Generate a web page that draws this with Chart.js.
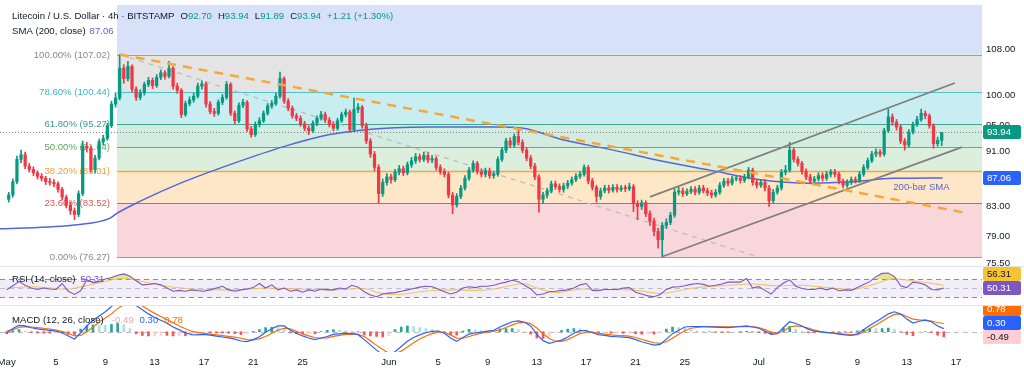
<!DOCTYPE html>
<html>
<head>
<meta charset="utf-8">
<script src="https://cdn.jsdelivr.net/npm/chart.js@4.4.1/dist/chart.umd.min.js"></script>
<style>
  html, body { margin: 0; padding: 0; background: #fff; }
  #wrap { position: relative; width: 1024px; height: 376px; overflow: hidden; }
  canvas { position: absolute; left: 0; }
  .sep { position: absolute; left: 0; width: 1024px; height: 1px; background: #e0e3eb; }
</style>
</head>
<body>
<div id="wrap">
  <canvas id="price" width="1024" height="270" style="top:0"></canvas>
  <canvas id="rsi" width="1024" height="39" style="top:266px"></canvas>
  <canvas id="macd" width="1024" height="71" style="top:305px"></canvas>
  <div class="sep" style="top:266px"></div>
  <div class="sep" style="top:305px"></div>
</div>
<script>
/* ===================== DATA ===================== */
// 8h candles from May 1 00:00, open = previous close
const firstOpen = 84.0;
const closes = [
  84.6, 86.5, 89.8, 90.5, 88.8, 88.3, 87.8, 87.3, 87.0, 86.5, 86.4, 86.2,
  85.4, 84.3, 83.2, 82.4, 81.9, 84.8, 91.8, 91.5, 88.3, 90.0, 92.5, 93.0,
  95.0, 98.5, 99.5, 104.6, 102.8, 104.9, 101.0, 99.6, 100.4, 101.8, 102.5, 101.6,
  103.0, 103.8, 103.2, 104.6, 101.5, 100.8, 96.8, 98.6, 99.2, 99.8, 101.5, 101.9,
  98.5, 97.3, 97.0, 98.8, 99.6, 101.8, 97.0, 95.8, 98.3, 98.8, 94.5, 93.6,
  95.2, 95.8, 97.0, 98.2, 98.6, 99.8, 102.8, 99.0, 97.8, 96.6, 96.2, 95.3,
  94.6, 94.2, 95.4, 96.2, 96.8, 95.9, 95.2, 94.6, 95.8, 96.8, 97.2, 94.4,
  97.6, 98.0, 95.0, 92.6, 90.6, 88.6, 84.8, 86.4, 87.2, 86.8, 87.9, 88.4,
  87.8, 89.0, 89.6, 90.2, 89.8, 90.4, 89.7, 89.9, 88.6, 88.0, 87.6, 84.6,
  83.2, 84.4, 85.6, 87.0, 88.2, 89.2, 88.0, 87.6, 88.1, 87.4, 87.6, 89.8,
  91.2, 92.6, 92.0, 93.3, 92.4, 91.2, 90.0, 88.8, 87.2, 84.0, 84.6, 85.2,
  86.2, 85.8, 85.4, 85.9, 86.3, 86.8, 87.3, 87.6, 88.6, 86.6, 85.7, 84.4,
  85.2, 85.6, 85.3, 85.7, 85.4, 85.6, 85.5, 85.8, 83.4, 83.0, 83.5, 82.0,
  81.0, 79.6, 78.5, 80.4, 80.8, 81.8, 85.0, 85.2, 84.8, 85.1, 85.4, 85.0,
  85.6, 85.2, 84.9, 84.6, 85.0, 86.0, 86.6, 86.3, 86.9, 87.0, 86.7, 87.2,
  88.2, 86.4, 86.0, 86.4, 85.6, 83.8, 85.0, 85.6, 87.9, 88.2, 91.2, 89.8,
  89.2, 88.0, 87.2, 86.6, 86.9, 87.4, 87.0, 87.6, 87.9, 87.6, 86.6, 86.0,
  86.4, 86.8, 86.7, 87.6, 88.6, 89.6, 90.6, 90.9, 90.6, 94.2, 96.4, 95.6,
  94.8, 92.6, 92.0, 94.0, 95.2, 96.0, 97.0, 96.6, 95.0, 92.2, 92.70, 93.94
];
const highs = [
  85.0, 86.9, 90.3, 91.2, 90.9, 89.2, 88.7, 88.1, 87.7, 87.3, 87.0, 86.8,
  86.5, 85.7, 84.6, 83.6, 82.8, 85.2, 92.6, 92.4, 91.8, 90.4, 92.9, 93.5,
  95.4, 99.0, 100.4, 107.02, 105.2, 105.8, 105.2, 101.4, 100.9, 102.2, 103.0, 102.9,
  103.5, 104.3, 104.2, 105.8, 104.9, 102.0, 101.1, 99.0, 99.7, 100.3, 102.0, 102.4,
  102.2, 98.9, 97.8, 99.2, 100.1, 102.3, 102.1, 97.4, 98.7, 99.3, 99.1, 94.9,
  95.6, 96.3, 97.4, 98.6, 99.1, 100.3, 103.9, 103.1, 99.4, 98.2, 97.0, 96.6,
  95.7, 95.0, 95.8, 96.6, 97.3, 97.2, 96.3, 95.6, 96.2, 97.2, 97.7, 97.5,
  99.5, 98.6, 98.3, 95.4, 93.0, 91.0, 89.0, 86.9, 87.7, 87.6, 88.3, 88.9,
  88.8, 89.4, 90.1, 90.7, 90.6, 90.9, 90.8, 90.4, 90.2, 89.0, 88.4, 87.9,
  85.0, 84.8, 86.0, 87.4, 88.6, 89.6, 89.5, 88.4, 88.5, 88.5, 88.0, 90.2,
  91.6, 93.0, 93.1, 93.7, 94.3, 92.8, 91.6, 90.4, 89.2, 87.5, 85.0, 85.6,
  86.6, 86.6, 86.2, 86.3, 86.7, 87.2, 87.7, 88.0, 89.0, 88.9, 87.0, 86.0,
  85.6, 86.0, 86.0, 86.1, 86.1, 86.0, 86.0, 86.3, 86.1, 83.8, 83.9, 83.8,
  82.4, 81.4, 80.0, 80.8, 81.3, 82.2, 85.5, 85.7, 85.6, 85.5, 85.8, 85.8,
  86.0, 86.0, 85.6, 85.3, 85.4, 86.4, 87.0, 87.0, 87.3, 87.4, 87.4, 87.6,
  88.6, 88.5, 86.8, 86.8, 86.8, 86.0, 85.4, 86.0, 88.3, 88.9, 92.4, 91.5,
  90.2, 89.5, 88.4, 87.6, 87.3, 87.8, 87.8, 88.0, 88.3, 88.3, 87.9, 86.9,
  86.8, 87.2, 87.2, 88.0, 89.0, 90.0, 91.0, 91.4, 91.3, 94.6, 97.7, 96.9,
  96.0, 95.1, 93.0, 94.4, 95.6, 96.5, 97.7, 97.4, 96.9, 95.3, 93.2, 93.94
];
const lows = [
  83.6, 84.3, 86.2, 89.3, 88.4, 87.9, 87.4, 86.9, 86.6, 86.1, 86.0, 85.8,
  85.0, 83.9, 82.8, 81.9, 81.2, 81.6, 84.5, 90.9, 87.9, 87.8, 89.7, 92.0,
  92.7, 94.7, 98.0, 99.2, 102.0, 102.4, 100.5, 99.1, 99.2, 100.0, 101.4, 101.1,
  101.3, 102.6, 102.7, 102.9, 101.0, 100.3, 96.3, 96.5, 98.2, 98.8, 99.5, 101.0,
  98.0, 96.9, 96.5, 96.7, 98.4, 99.3, 96.6, 95.3, 95.5, 97.9, 94.1, 93.2,
  93.3, 94.8, 95.5, 96.7, 97.8, 98.3, 99.5, 98.6, 97.4, 96.2, 95.8, 94.9,
  94.2, 93.6, 93.9, 95.0, 95.9, 95.5, 94.8, 94.2, 94.3, 95.5, 96.4, 94.0,
  94.1, 97.1, 94.6, 92.2, 90.1, 88.1, 83.5, 84.4, 86.0, 86.3, 86.5, 87.5,
  87.4, 87.5, 88.6, 89.2, 89.4, 89.5, 89.3, 89.3, 88.2, 87.6, 87.2, 84.2,
  82.0, 82.9, 84.1, 85.3, 86.7, 87.9, 87.6, 87.2, 87.2, 87.0, 87.0, 87.3,
  89.5, 90.8, 91.6, 91.7, 92.0, 90.8, 89.6, 88.4, 86.8, 82.2, 83.4, 84.2,
  84.9, 85.4, 85.0, 85.0, 85.5, 86.0, 86.5, 87.0, 87.3, 86.2, 85.3, 83.6,
  84.0, 84.9, 84.9, 85.0, 85.0, 85.1, 85.1, 85.2, 82.3, 81.2, 82.6, 81.6,
  80.4, 79.0, 77.4, 76.27, 80.0, 80.5, 81.5, 84.6, 84.4, 84.5, 84.8, 84.6,
  84.7, 84.9, 84.5, 84.2, 84.3, 84.7, 85.7, 85.9, 86.0, 86.6, 86.3, 86.4,
  86.9, 86.0, 85.6, 85.7, 85.2, 83.0, 83.5, 84.7, 85.3, 87.5, 87.9, 89.4,
  88.8, 87.6, 86.8, 86.2, 86.2, 86.6, 86.6, 86.7, 87.2, 87.2, 86.2, 85.6,
  85.7, 86.1, 86.3, 86.4, 87.3, 88.3, 89.3, 90.2, 90.2, 90.3, 93.9, 95.1,
  94.3, 92.2, 91.2, 91.7, 93.7, 94.9, 95.7, 96.1, 94.6, 91.5, 91.8, 91.89
];

// 200-bar SMA, read at points (day, price)
const smaDays = [-0.54, 5.7, 8.4, 8.9, 10.8, 14.1, 18.4, 22.4, 26.2, 28.7, 34.3, 39.8, 41.9, 45.1, 49.2, 53.0, 57.0, 61.1, 65.2, 68.6, 71.9, 75.9];
const smaValues = [79.95, 80.5, 81.4, 82.0, 83.7, 86.3, 89.2, 91.7, 93.6, 94.3, 94.8, 94.8, 94.6, 92.8, 91.2, 89.6, 88.2, 86.8, 86.3, 86.5, 87.0, 87.06];

// Fibonacci retracement
const fibStartDay = 8.95;
const fibPercents = [100, 78.6, 61.8, 50, 38.2, 23.6, 0];
const fibPrices = [107.02, 100.44, 95.27, 91.64, 88.01, 83.52, 76.27];

// drawn lines (day, price)
const downTrendDays = [9.19, 77.9], downTrendPrices = [107.02, 82.09];
const guideDays = [9.19, 60.86], guidePrices = [107.02, 76.3];
const channelTopDays = [52.17, 76.9], channelTopPrices = [84.35, 102.04];
const channelLowDays = [53.15, 77.48], channelLowPrices = [76.3, 91.67];

const priceTicks = [75.5, 79, 83, 87, 91, 95, 100, 108];

// RSI every 12h from May 1
const rsiValues = [
  46, 55, 64, 56, 50, 47, 50, 48, 47, 60, 43, 36,
  44, 68, 62, 64, 70, 73, 78, 81, 76, 66, 57, 58,
  60, 57, 50, 43, 45, 43, 46, 44, 43, 46, 50, 54,
  46, 43, 46, 48, 51, 60, 50, 57, 46, 50, 43, 46,
  41, 46, 43, 48, 46, 46, 50, 48, 56, 52, 42, 35,
  31, 37, 39, 40, 43, 46, 49, 52, 54, 53, 48, 42,
  37, 41, 50, 53, 51, 54, 54, 56, 60, 63, 67, 64,
  56, 48, 35, 37, 42, 43, 45, 46, 50, 57, 60, 45,
  44, 47, 47, 47, 50, 51, 41, 37, 33, 31, 36, 47,
  52, 53, 55, 58, 60, 58, 54, 56, 59, 63, 63, 63,
  71, 50, 53, 45, 37, 51, 61, 68, 54, 49, 47, 47,
  50, 46, 50, 44, 46, 45, 51, 58, 64, 75, 82, 83,
  75, 55, 51, 63, 61, 57, 47, 46, 50.31
];
const rsiMaDays = [0, 2.1, 4.9, 5.9, 7.6, 8.6, 9.7, 10.8, 13, 15.7, 18.4, 21.1, 23.8, 26.2, 28.9, 30.3, 31.7, 34.3, 36.5, 38.4, 40.3, 41.9, 43, 44.6, 46.7, 47.9, 50.6, 52.4, 53, 55.7, 58.4, 60.5, 62.5, 64.3, 66.5, 68.6, 70.3, 71.9, 73.5, 76];
const rsiMaValues = [50, 53, 47, 52, 62, 68, 71, 65, 54, 47, 46, 50, 48, 46, 49, 39, 36, 44, 46, 45, 52, 60, 50, 40, 48, 47, 46, 40, 38, 50, 56, 59, 55, 56, 51, 47, 58, 70, 66, 56.31];

// MACD (12, 26) every 12h from May 1
const macdValues = [
  -0.14, 0.30, 0.60, 0.55, 0.38, 0.28, 0.20, 0.12, 0.06, -0.10, -0.40, -0.70,
  -0.10, 0.55, 1.10, 1.50, 1.90, 2.40, 3.00, 3.30, 3.10, 2.50, 2.10, 1.70,
  1.35, 1.10, 0.80, 0.45, 0.18, -0.10, -0.28, -0.30, -0.25, -0.32, -0.42, -0.50,
  -0.58, -0.70, -0.88, -0.94, -0.75, -0.48, -0.05, 0.28, 0.55, 0.55, 0.17, -0.15,
  -0.40, -0.60, -0.75, -0.60, -0.45, -0.25, -0.20, -0.14, -0.18, -0.28, -0.75, -1.25,
  -1.75, -2.20, -2.40, -1.90, -1.40, -0.90, -0.55, -0.30, -0.10, 0.03, 0.07, -0.15,
  -0.60, -0.92, -0.55, -0.22, -0.10, -0.03, 0.05, 0.14, 0.45, 0.70, 0.95, 1.03,
  0.90, 0.55, -0.25, -0.85, -1.10, -0.95, -0.80, -0.50, -0.15, 0.10, 0.10, -0.10,
  -0.27, -0.35, -0.44, -0.48, -0.52, -0.56, -0.75, -0.95, -1.12, -1.28, -1.20, -0.70,
  -0.18, 0.15, 0.45, 0.50, 0.50, 0.50, 0.47, 0.44, 0.42, 0.40, 0.45, 0.50,
  0.55, 0.45, 0.33, 0.05, -0.25, -0.18, 0.40, 0.95, 0.78, 0.55, 0.25, 0.05,
  -0.02, -0.08, -0.14, -0.22, -0.30, -0.36, -0.20, 0.18, 0.60, 0.95, 1.30, 1.70,
  1.90, 1.68, 1.20, 0.82, 1.00, 1.10, 0.95, 0.55, 0.296
];
const signalValues = [
  0.05, 0.20, 0.40, 0.48, 0.45, 0.40, 0.33, 0.25, 0.15, 0.02, -0.15, -0.40,
  -0.35, 0.00, 0.45, 0.90, 1.30, 1.70, 2.20, 2.60, 2.80, 2.70, 2.45, 2.10,
  1.75, 1.45, 1.15, 0.85, 0.55, 0.28, 0.05, -0.08, -0.15, -0.22, -0.30, -0.37,
  -0.44, -0.52, -0.62, -0.75, -0.78, -0.68, -0.45, -0.15, 0.15, 0.33, 0.28, 0.05,
  -0.20, -0.40, -0.55, -0.62, -0.58, -0.45, -0.35, -0.25, -0.22, -0.25, -0.45, -0.85,
  -1.30, -1.70, -2.05, -2.10, -1.85, -1.45, -1.05, -0.70, -0.40, -0.18, -0.05, -0.05,
  -0.30, -0.60, -0.62, -0.45, -0.28, -0.14, -0.05, 0.05, 0.17, 0.40, 0.65, 0.85,
  0.90, 0.78, 0.35, -0.20, -0.65, -0.90, -0.92, -0.75, -0.45, -0.18, -0.05, -0.05,
  -0.12, -0.22, -0.30, -0.35, -0.37, -0.42, -0.55, -0.72, -0.90, -1.05, -1.10, -0.95,
  -0.62, -0.25, 0.10, 0.33, 0.42, 0.46, 0.48, 0.48, 0.47, 0.46, 0.46, 0.48,
  0.50, 0.48, 0.40, 0.20, -0.05, -0.14, 0.05, 0.45, 0.55, 0.50, 0.35, 0.15,
  0.02, -0.05, -0.10, -0.17, -0.24, -0.30, -0.28, -0.05, 0.30, 0.65, 1.00, 1.35,
  1.65, 1.70, 1.45, 1.20, 1.12, 1.10, 1.02, 0.88, 0.784
];

// time axis (days from May 1)
const tickDays = [0, 4, 8, 12, 16, 20, 24, 31, 35, 39, 43, 47, 51, 55, 61, 65, 69, 73, 77];
const tickLabels = ["May", "5", "9", "13", "17", "21", "25", "Jun", "5", "9", "13", "17", "21", "25", "Jul", "5", "9", "13", "17"];
/* ================================================ */

const X_MIN = -0.54, X_MAX = 79.1;
const FONT = '"Liberation Sans", Arial, sans-serif';
const FS = 9.6;
const TXT = "#131722";
const UP = "#089981", DOWN = "#f23645";

const opens = closes.map((c, i) => (i ? closes[i - 1] : firstOpen));
const barDay = (i) => i / 3 + 1 / 6;
const candleColors = closes.map((c, i) => (c >= opens[i] ? UP : DOWN));
const pts = (xs, ys) => xs.map((x, i) => ({ x, y: ys[i] }));
const halfDay = (vals) => vals.map((v, k) => ({ x: k * 0.5, y: v }));

const hist = macdValues.map((m, k) => m - signalValues[k]);
const histColors = hist.map((h, k) => {
  const p = k ? hist[k - 1] : 0;
  if (h >= 0) return h >= p ? "#26a69a" : "#b2dfdb";
  return h <= p ? "#ff5252" : "#ffcdd2";
});

function xScale(show) {
  const s = {
    type: "linear", min: X_MIN, max: X_MAX, offset: false, display: show,
    grid: { display: false, drawTicks: false }, border: { display: false },
    afterFit: (sc) => { sc.paddingLeft = 0; sc.paddingRight = 0; if (show) sc.height = 24; },
  };
  if (show) {
    s.afterBuildTicks = (sc) => { sc.ticks = tickDays.map((v) => ({ value: v })); };
    s.ticks = {
      autoSkip: false, maxRotation: 0, padding: 5, color: TXT,
      font: { family: FONT, size: FS },
      callback: (v, i) => tickLabels[i],
    };
  }
  return s;
}

const baseOpts = {
  responsive: false, animation: false, events: [], devicePixelRatio: 1,
  plugins: { legend: { display: false }, tooltip: { enabled: false } },
};

function badge(ctx, text, yc, bg, fg) {
  ctx.fillStyle = bg;
  ctx.beginPath();
  ctx.roundRect(983, Math.round(yc - 7), 38, 14, 2);
  ctx.fill();
  ctx.fillStyle = fg;
  ctx.textAlign = "left";
  ctx.textBaseline = "middle";
  ctx.fillText(text, 987, Math.round(yc) + 0.5);
}

function segments(ctx, x, y, segs) {
  ctx.textAlign = "left";
  ctx.textBaseline = "middle";
  segs.forEach(([t, c, gap]) => {
    ctx.fillStyle = c;
    ctx.fillText(t, x, y);
    x += ctx.measureText(t).width + (gap || 0);
  });
}

/* ---------- price pane ---------- */
const fibFills = ["#d8e1fa", "#e4e4e4", "#c9eef2", "#d3ece2", "#dcefdc", "#fde7c7", "#f9d6da"];
const fibLines = ["#8f97db", "#4cc3c9", "#3ba58f", "#62b466", "#f2a93b", "#e05a5a", "#9a9a9a"];
const fibText = ["#8a8a8a", "#3db7c4", "#3b9c86", "#5aa85a", "#f0a030", "#e05656", "#8a8a8a"];

const fibPlugin = {
  id: "fib",
  beforeDatasetsDraw(chart) {
    const { ctx, chartArea: a, scales: { x, y } } = chart;
    const x0 = Math.round(x.getPixelForValue(fibStartDay));
    ctx.save();
    let top = a.top;
    fibPrices.forEach((p, i) => {
      const py = y.getPixelForValue(p);
      ctx.fillStyle = fibFills[i];
      ctx.fillRect(x0, top, a.right - x0, py - top);
      top = py;
    });
    ctx.font = `${FS}px ${FONT}`;
    ctx.textAlign = "right";
    ctx.textBaseline = "middle";
    fibPrices.forEach((p, i) => {
      const py = Math.round(y.getPixelForValue(p)) + 0.5;
      ctx.strokeStyle = fibLines[i];
      ctx.lineWidth = i === 4 ? 1.6 : 1;
      ctx.beginPath();
      ctx.moveTo(x0, py);
      ctx.lineTo(a.right, py);
      ctx.stroke();
      ctx.fillStyle = fibText[i];
      ctx.fillText(`${fibPercents[i].toFixed(2)}% (${p.toFixed(2)})`, x0 - 7, py);
    });
    ctx.restore();
  },
  afterDraw(chart) {
    const { ctx, scales: { x, y } } = chart;
    ctx.save();
    ctx.font = `${FS}px ${FONT}`;
    const teal = "#089981";
    segments(ctx, 12, 16, [
      ["Litecoin / U.S. Dollar · 4h · BITSTAMP", TXT, 6],
      ["O", TXT], ["92.70", teal, 6],
      ["H", TXT], ["93.94", teal, 6],
      ["L", TXT], ["91.89", teal, 6],
      ["C", TXT], ["93.94", teal, 6],
      ["+1.21 (+1.30%)", teal],
    ]);
    segments(ctx, 12, 31, [["SMA (200, close)", TXT, 4], ["87.06", "#5567d6"]]);
    ctx.fillStyle = "#5567d6";
    ctx.textAlign = "left";
    ctx.fillText("200-bar SMA", x.getPixelForValue(71.9), y.getPixelForValue(85.7));
    const last = closes[closes.length - 1];
    badge(ctx, last.toFixed(2), y.getPixelForValue(last), "#089981", "#fff");
    const sma = smaValues[smaValues.length - 1];
    badge(ctx, sma.toFixed(2), y.getPixelForValue(sma), "#2962ff", "#fff");
    ctx.restore();
  },
};

new Chart(document.getElementById("price"), {
  type: "line",
  data: {
    datasets: [
      { data: pts(downTrendDays, downTrendPrices), borderColor: "#f5a83a", borderWidth: 2.5, borderDash: [9, 7], pointRadius: 0, order: 1 },
      { data: pts(channelTopDays, channelTopPrices), borderColor: "#808080", borderWidth: 1.8, pointRadius: 0, order: 1 },
      { data: pts(channelLowDays, channelLowPrices), borderColor: "#808080", borderWidth: 1.8, pointRadius: 0, order: 1 },
      { type: "bar", data: closes.map((c, i) => ({ x: barDay(i), y: [opens[i], c] })), backgroundColor: candleColors,
        barThickness: 2.6, grouped: false, minBarLength: 1, borderWidth: 0, order: 2 },
      { type: "bar", data: closes.map((c, i) => ({ x: barDay(i), y: [lows[i], highs[i]] })), backgroundColor: candleColors,
        barThickness: 1, grouped: false, borderWidth: 0, order: 3 },
      { data: pts(smaDays, smaValues), borderColor: "#5567d6", borderWidth: 1.5, pointRadius: 0, cubicInterpolationMode: "monotone", order: 4 },
      { data: pts(guideDays, guidePrices), borderColor: "#bdbdbd", borderWidth: 1.3, borderDash: [5, 5], pointRadius: 0, order: 5 },
      { data: pts([X_MIN, X_MAX], [closes[closes.length - 1], closes[closes.length - 1]]), borderColor: "#787b86",
        borderWidth: 1, borderDash: [1, 2], pointRadius: 0, order: 6 },
    ],
  },
  options: {
    ...baseOpts,
    layout: { padding: { top: 5, bottom: 4, left: 0, right: 0 } },
    scales: {
      x: xScale(false),
      y: {
        type: "logarithmic", position: "right", min: 75.13, max: 116.26, bounds: "data",
        grid: { display: false, drawTicks: false }, border: { display: false },
        afterBuildTicks: (s) => { s.ticks = priceTicks.map((v) => ({ value: v })); },
        afterFit: (s) => { s.width = 42; s.paddingTop = 0; s.paddingBottom = 0; },
        ticks: { autoSkip: false, padding: 4, color: TXT, font: { family: FONT, size: FS },
          callback: (v) => Number(v).toFixed(2) },
      },
    },
  },
  plugins: [fibPlugin],
});

/* ---------- RSI pane ---------- */
const rsiPlugin = {
  id: "rsiPane",
  beforeDatasetsDraw(chart) {
    const { ctx, chartArea: a, scales: { y } } = chart;
    const yU = Math.round(y.getPixelForValue(70)) + 0.5;
    const yM = Math.round(y.getPixelForValue(50)) + 0.5;
    const yL = Math.round(y.getPixelForValue(30)) + 0.5;
    ctx.save();
    ctx.fillStyle = "rgba(126,87,194,0.10)";
    ctx.fillRect(a.left, yU, a.right - a.left, yL - yU);
    ctx.setLineDash([5, 4]);
    ctx.lineWidth = 1;
    [[yU, "#8a8d96"], [yM, "rgba(138,141,150,0.5)"], [yL, "#8a8d96"]].forEach(([py, c]) => {
      ctx.strokeStyle = c;
      ctx.beginPath(); ctx.moveTo(a.left, py); ctx.lineTo(a.right, py); ctx.stroke();
    });
    ctx.restore();
  },
  afterDraw(chart) {
    const { ctx, scales: { y } } = chart;
    ctx.save();
    ctx.font = `${FS}px ${FONT}`;
    const rsi = rsiValues[rsiValues.length - 1];
    const ma = rsiMaValues[rsiMaValues.length - 1];
    segments(ctx, 12, 13, [["RSI (14, close)", TXT, 5], [rsi.toFixed(2), "#7e57c2"]]);
    const yc = y.getPixelForValue(rsi);
    badge(ctx, rsi.toFixed(2), yc, "#7e57c2", "#fff");
    badge(ctx, ma.toFixed(2), Math.min(y.getPixelForValue(ma), yc - 14), "#f6c431", TXT);
    ctx.restore();
  },
};

new Chart(document.getElementById("rsi"), {
  type: "line",
  data: {
    datasets: [
      { data: halfDay(rsiValues), borderColor: "#7e57c2", borderWidth: 1.1, pointRadius: 0, order: 1,
        fill: { target: { value: 70 }, above: "rgba(205,205,60,0.55)", below: "rgba(0,0,0,0)" } },
      { data: pts(rsiMaDays, rsiMaValues), borderColor: "rgba(243,190,70,0.85)", borderWidth: 1.1, pointRadius: 0,
        cubicInterpolationMode: "monotone", order: 2 },
    ],
  },
  options: {
    ...baseOpts,
    layout: { padding: { top: 1, right: 42, left: 0, bottom: 0 } },
    scales: { x: xScale(false), y: { display: false, min: 13, max: 96 } },
  },
  plugins: [rsiPlugin],
});

/* ---------- MACD pane ---------- */
const macdPlugin = {
  id: "macdPane",
  beforeDatasetsDraw(chart) {
    const { ctx, chartArea: a, scales: { y } } = chart;
    const y0 = Math.round(y.getPixelForValue(0)) + 0.5;
    ctx.save();
    ctx.setLineDash([5, 4]);
    ctx.strokeStyle = "rgba(138,141,150,0.6)";
    ctx.lineWidth = 1;
    ctx.beginPath(); ctx.moveTo(a.left, y0); ctx.lineTo(a.right, y0); ctx.stroke();
    ctx.restore();
  },
  afterDraw(chart) {
    const { ctx, scales: { y } } = chart;
    const m = macdValues[macdValues.length - 1];
    const s = signalValues[signalValues.length - 1];
    const h = hist[hist.length - 1];
    ctx.save();
    ctx.font = `${FS}px ${FONT}`;
    segments(ctx, 12, 15, [
      ["MACD (12, 26, close)", TXT, 8],
      [h.toFixed(2), "#f4a6a6", 6],
      [m.toFixed(2), "#2962ff", 6],
      [s.toFixed(2), "#ff6d00"],
    ]);
    const yh = y.getPixelForValue(h);
    badge(ctx, h.toFixed(2), yh, "#ffcdd2", TXT);
    badge(ctx, m.toFixed(2), yh - 14, "#2962ff", "#fff");
    badge(ctx, s.toFixed(2), yh - 28, "#ff6d00", "#fff");
    ctx.restore();
  },
};

new Chart(document.getElementById("macd"), {
  type: "line",
  data: {
    datasets: [
      { data: halfDay(macdValues), borderColor: "#2962ff", borderWidth: 1.2, pointRadius: 0, order: 1 },
      { data: halfDay(signalValues), borderColor: "#ff6d00", borderWidth: 1.2, pointRadius: 0, order: 2 },
      { type: "bar", data: halfDay(hist), backgroundColor: histColors, barThickness: 2, grouped: false, borderWidth: 0, order: 3 },
    ],
  },
  options: {
    ...baseOpts,
    layout: { padding: { top: 1, right: 42, left: 0, bottom: 0 } },
    scales: { x: xScale(true), y: { display: false, min: -1.93, max: 2.45 } },
  },
  plugins: [macdPlugin],
});
</script>
</body>
</html>
